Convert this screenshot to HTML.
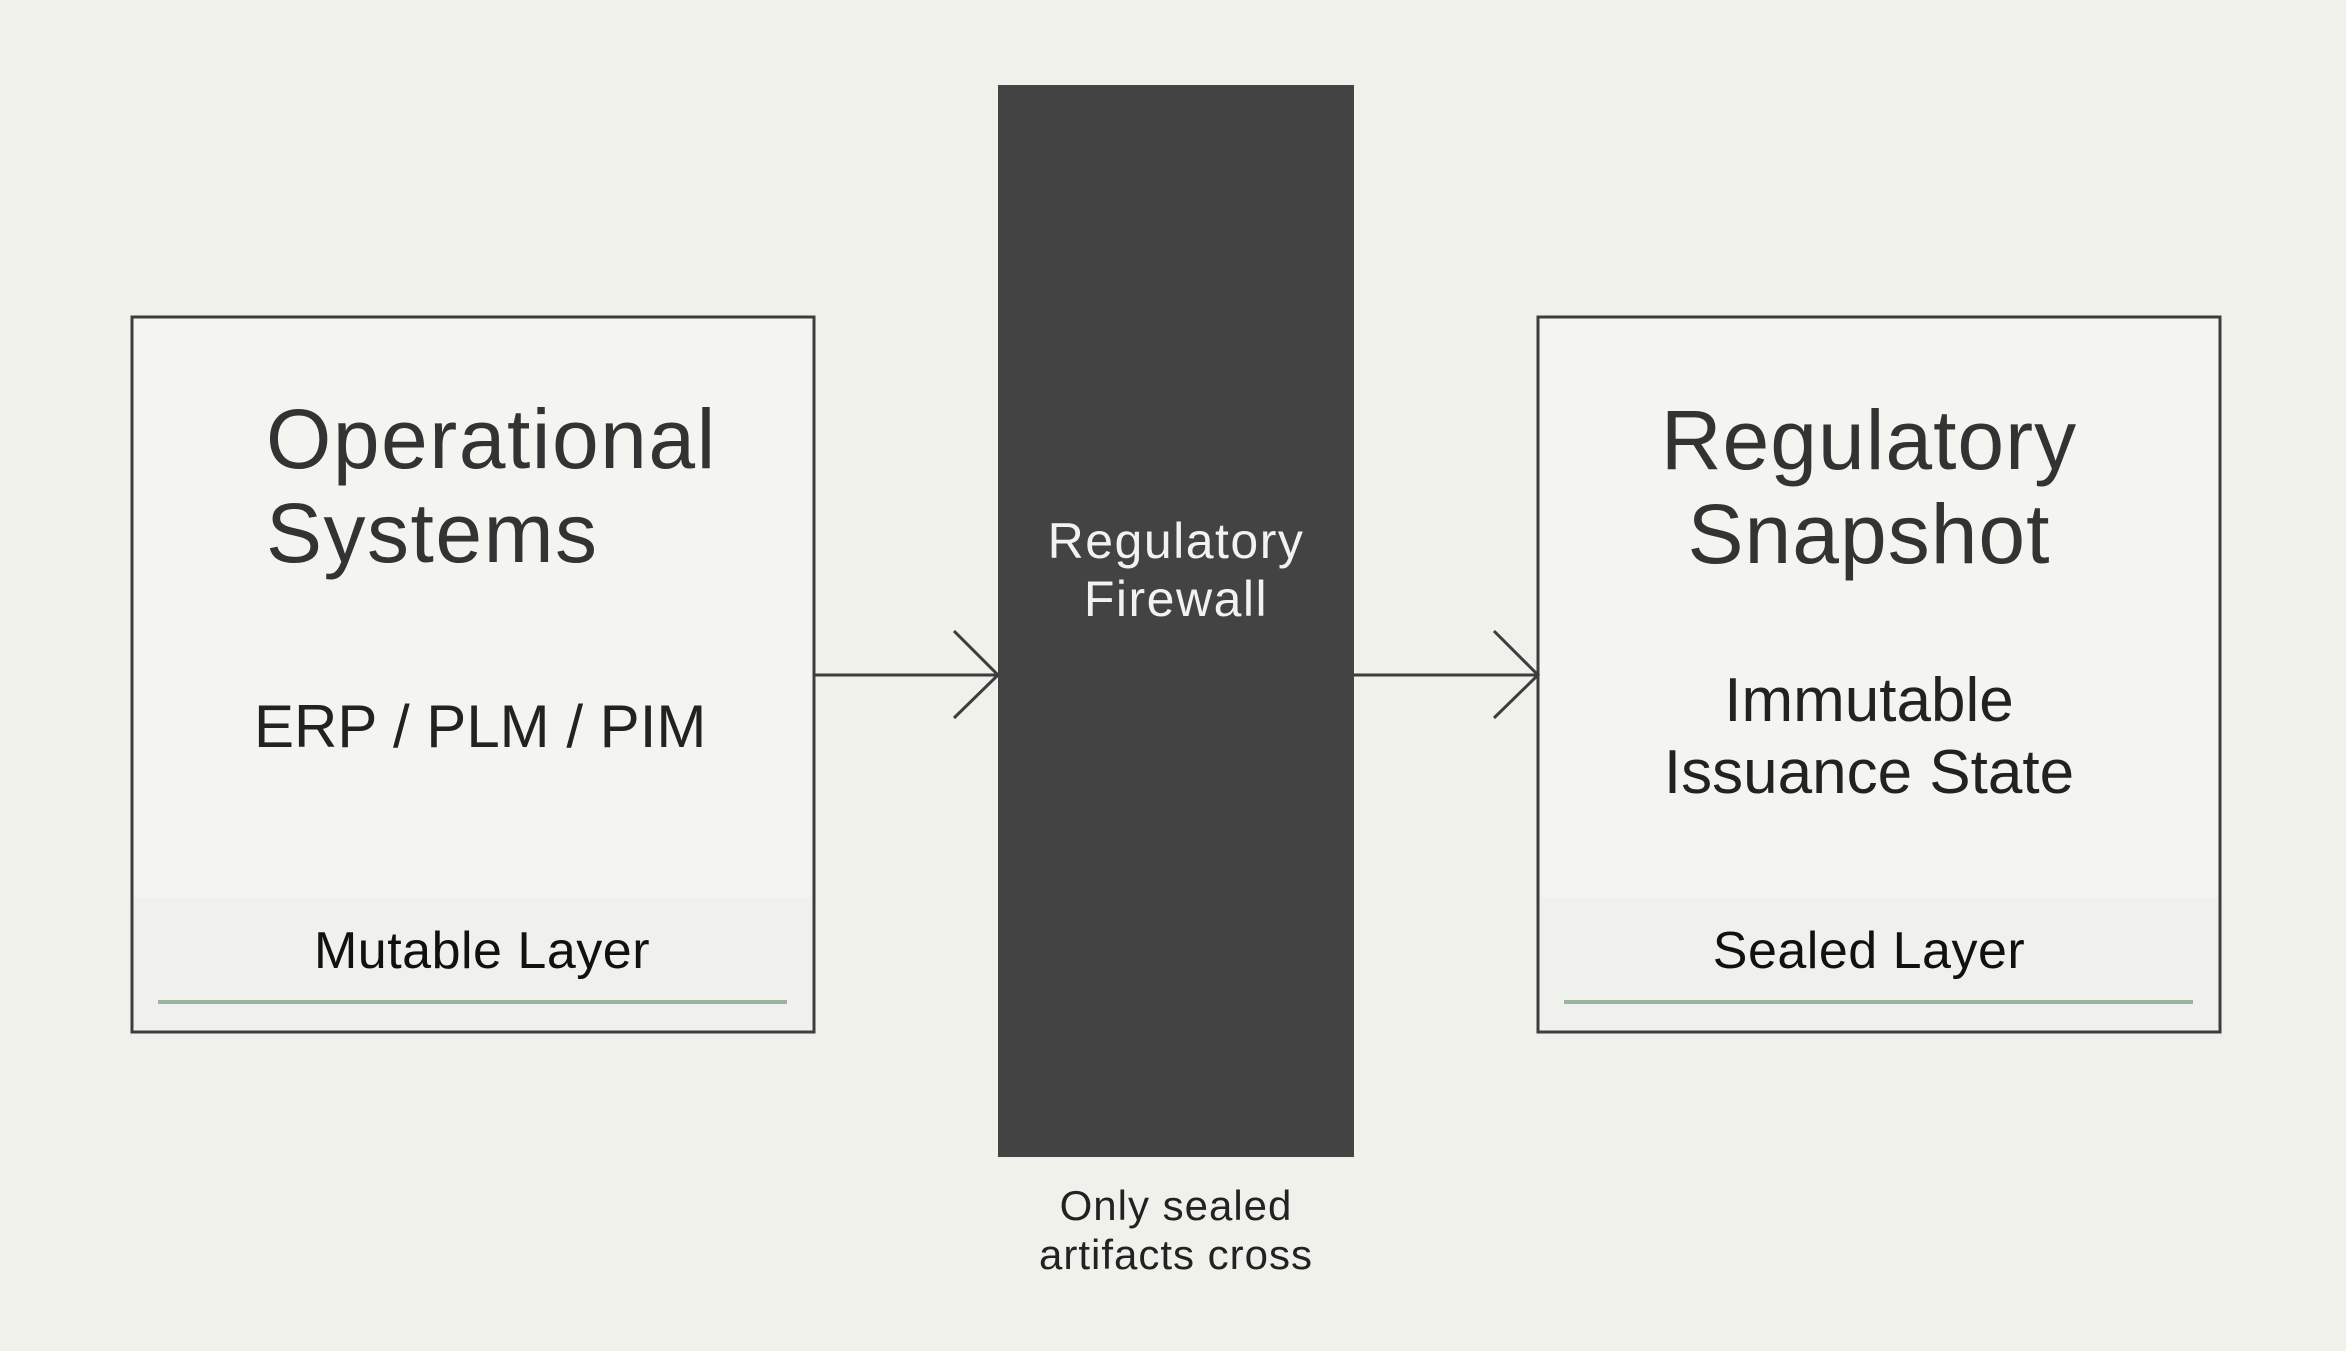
<!DOCTYPE html>
<html><head><style>
body{margin:0;width:2346px;height:1351px;background:#f1f1ec;position:relative;overflow:hidden;font-family:"Liberation Sans",sans-serif;}
.t{position:absolute;white-space:nowrap;}
</style></head><body>
<svg width="2346" height="1351" style="position:absolute;left:0;top:0">
<rect x="132" y="317" width="682" height="715" fill="#f4f4f0" stroke="#3d3d3d" stroke-width="3"/>
<rect x="134" y="897" width="678" height="133" fill="#f0f1ec"/>
<line x1="158" y1="1002" x2="787" y2="1002" stroke="#9ab59e" stroke-width="4"/>
<rect x="1538" y="317" width="682" height="715" fill="#f4f4f0" stroke="#3d3d3d" stroke-width="3"/>
<rect x="1540" y="897" width="678" height="133" fill="#f0f1ec"/>
<line x1="1564" y1="1002" x2="2193" y2="1002" stroke="#9ab59e" stroke-width="4"/>
<rect x="998" y="85" width="356" height="1072" fill="#434343"/>
<g stroke="#3d3d3d" stroke-width="3" fill="none">
<line x1="814" y1="675" x2="998" y2="675"/>
<polyline points="954,631 998,675 954,718"/>
<line x1="1354" y1="675" x2="1538" y2="675"/>
<polyline points="1494,631 1538,675 1494,718"/>
</g>
</svg>
<div class="t" style="left:266px;top:392px;font-size:84px;letter-spacing:1.5px;line-height:94px;color:#333">Operational<br>Systems</div>
<div class="t" style="left:254px;top:692px;font-size:60px;color:#222">ERP / PLM / PIM</div>
<div class="t" style="left:132px;width:700px;text-align:center;top:921px;font-size:52px;letter-spacing:0.5px;color:#111">Mutable Layer</div>
<div class="t" style="left:978px;width:396px;text-align:center;top:512px;font-size:50px;letter-spacing:1.5px;line-height:58px;color:#f2f2f2">Regulatory<br>Firewall</div>
<div class="t" style="left:978px;width:396px;text-align:center;top:1181px;font-size:42px;letter-spacing:1px;line-height:49px;color:#222">Only sealed<br>artifacts cross</div>
<div class="t" style="left:1538px;width:662px;text-align:center;top:393px;font-size:84px;letter-spacing:1px;line-height:94px;color:#333">Regulatory<br>Snapshot</div>
<div class="t" style="left:1538px;width:662px;text-align:center;top:665px;font-size:62px;line-height:72px;color:#222">Immutable<br>Issuance State</div>
<div class="t" style="left:1538px;width:662px;text-align:center;top:921px;font-size:52px;letter-spacing:0.5px;color:#111">Sealed Layer</div>
</body></html>
